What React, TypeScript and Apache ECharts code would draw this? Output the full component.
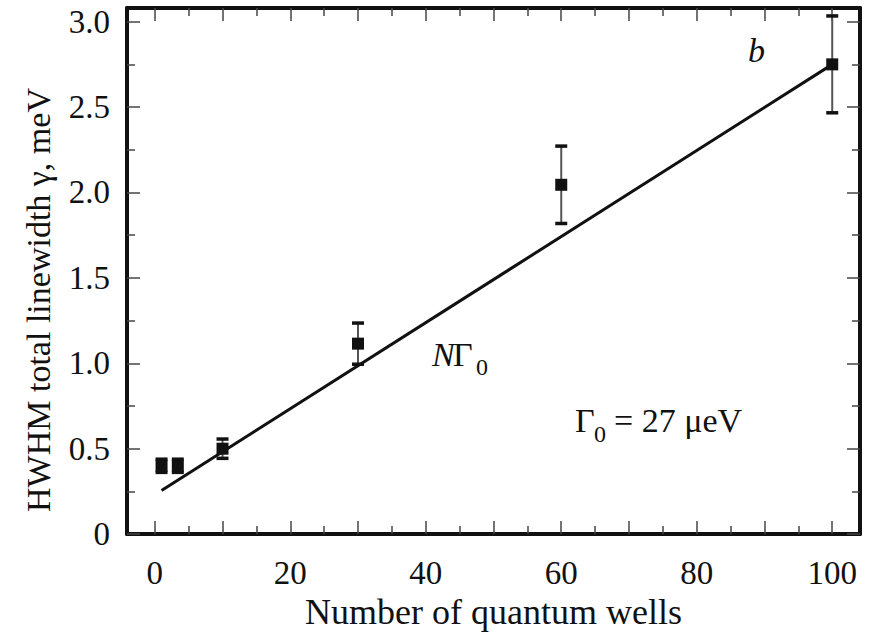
import React, { useEffect, useRef } from "react";
import * as echarts from "echarts";

// ---- data ----
const wells = [1, 3.4, 10, 30, 60, 100];
const linewidth = [0.40, 0.40, 0.50, 1.115, 2.045, 2.75];
const errors = [0.04, 0.04, 0.058, 0.122, 0.228, 0.285];
const fitX = [1, 100];
const fitY = [0.255, 2.75];

const xMajorTicks = [0, 10, 20, 30, 40, 50, 60, 70, 80, 90, 100];
const xMinorTicks = [5, 15, 25, 35, 45, 55, 65, 75, 85, 95];
const xLabels = [0, 20, 40, 60, 80, 100];
const yMajorTicks = [0, 0.5, 1.0, 1.5, 2.0, 2.5, 3.0];
const yMinorTicks = [0.25, 0.75, 1.25, 1.75, 2.25, 2.75];
const yLabels = [0, 0.5, 1.0, 1.5, 2.0, 2.5, 3.0];

const FONT = "'Liberation Serif', 'DejaVu Serif', serif";
const INK = "#111111";
const TICK = "#444";

export default function App() {
  const ref = useRef<HTMLDivElement>(null);

  useEffect(() => {
    if (!ref.current) return;
    const chart = echarts.init(ref.current, null, { renderer: "svg" });

    const xRange = { min: -4.1, max: 104.1 };
    const yRange = { min: 0, max: 3.08 };

    const baseX = (pos: "bottom" | "top", ticks: number[], len: number, line: boolean, labels: boolean, name?: string) => ({
      type: "value",
      position: pos,
      ...xRange,
      splitLine: { show: false },
      axisLine: { show: line, onZero: false, lineStyle: { color: INK, width: 4 } },
      axisTick: { show: true, inside: true, length: len, customValues: ticks, lineStyle: { color: TICK, width: 1.5 } },
      axisLabel: labels
        ? { show: true, customValues: xLabels, margin: 22, color: INK, fontFamily: FONT, fontSize: 33 }
        : { show: false },
      name: name,
      nameLocation: "middle",
      nameGap: 56,
      nameTextStyle: { color: INK, fontFamily: FONT, fontSize: 36 },
    });

    const baseY = (pos: "left" | "right", ticks: number[], len: number, line: boolean, labels: boolean) => ({
      type: "value",
      position: pos,
      ...yRange,
      splitLine: { show: false },
      axisLine: { show: line, onZero: false, lineStyle: { color: INK, width: 4 } },
      axisTick: { show: true, inside: true, length: len, customValues: ticks, lineStyle: { color: TICK, width: 1.5 } },
      axisLabel: labels
        ? {
            show: true,
            customValues: yLabels,
            margin: 17,
            color: INK,
            fontFamily: FONT,
            fontSize: 33,
            formatter: (v: number) => (v === 0 ? "0" : v.toFixed(1)),
          }
        : { show: false },
    });

    const errData = wells.map((w, i) => [w, linewidth[i] - errors[i], linewidth[i] + errors[i]]);
    const ptData = wells.map((w, i) => [w, linewidth[i]]);
    const fitData = fitX.map((x, i) => [x, fitY[i]]);

    chart.setOption({
      animation: false,
      backgroundColor: "#ffffff",
      grid: { left: 127, right: 16, top: 8, bottom: 95, containLabel: false },
      xAxis: [
        baseX("bottom", xMajorTicks, 13, true, true, "Number of quantum wells"),
        baseX("bottom", xMinorTicks, 8, false, false),
        baseX("top", xMajorTicks, 13, true, false),
        baseX("top", xMinorTicks, 8, false, false),
      ],
      yAxis: [
        baseY("left", yMajorTicks, 13, true, true),
        baseY("left", yMinorTicks, 8, false, false),
        baseY("right", yMajorTicks, 13, true, false),
        baseY("right", yMinorTicks, 8, false, false),
      ],
      series: [
        {
          type: "line",
          name: "NΓ0 fit",
          data: fitData,
          xAxisIndex: 0,
          yAxisIndex: 0,
          symbol: "none",
          lineStyle: { color: INK, width: 3 },
          z: 2,
        },
        {
          type: "custom",
          name: "error",
          data: errData,
          xAxisIndex: 0,
          yAxisIndex: 0,
          encode: { x: 0, y: [1, 2] },
          z: 3,
          renderItem: (params: any, api: any) => {
            const x = api.value(0);
            const lo = api.coord([x, api.value(1)]);
            const hi = api.coord([x, api.value(2)]);
            return {
              type: "group",
              children: [
                { type: "line", shape: { x1: lo[0], y1: lo[1], x2: hi[0], y2: hi[1] }, style: { stroke: "#555", lineWidth: 2 } },
                { type: "rect", shape: { x: hi[0] - 6, y: hi[1] - 1.5, width: 12, height: 3.5 }, style: { fill: INK } },
                { type: "rect", shape: { x: lo[0] - 6, y: lo[1] - 2, width: 12, height: 3.5 }, style: { fill: INK } },
              ],
            };
          },
        },
        {
          type: "scatter",
          name: "HWHM",
          data: ptData,
          xAxisIndex: 0,
          yAxisIndex: 0,
          symbol: "rect",
          symbolSize: 12,
          itemStyle: { color: INK, opacity: 1 },
          z: 4,
        },
      ],
      graphic: [
        {
          type: "text",
          x: 38,
          y: 300,
          rotation: Math.PI / 2,
          style: { text: "HWHM total linewidth γ, meV", font: `34px ${FONT}`, fill: INK, align: "center", verticalAlign: "middle" },
        },
        { type: "text", x: 748, y: 50, style: { text: "b", font: `italic 34px ${FONT}`, fill: INK, align: "left", verticalAlign: "middle" } },
        { type: "text", x: 432, y: 354, style: { text: "N", font: `italic 34px ${FONT}`, fill: INK, align: "left", verticalAlign: "middle" } },
        { type: "text", x: 453, y: 354, style: { text: "Γ", font: `34px ${FONT}`, fill: INK, align: "left", verticalAlign: "middle" } },
        { type: "text", x: 476, y: 367, style: { text: "0", font: `24px ${FONT}`, fill: INK, align: "left", verticalAlign: "middle" } },
        { type: "text", x: 575, y: 420, style: { text: "Γ", font: `34px ${FONT}`, fill: INK, align: "left", verticalAlign: "middle" } },
        { type: "text", x: 594, y: 434, style: { text: "0", font: `24px ${FONT}`, fill: INK, align: "left", verticalAlign: "middle" } },
        { type: "text", x: 614, y: 420, style: { text: "= 27 μeV", font: `34px ${FONT}`, fill: INK, align: "left", verticalAlign: "middle" } },
      ],
    });

    return () => chart.dispose();
  }, []);

  return <div ref={ref} style={{ position: "fixed", left: 0, top: 0, width: 876, height: 635 }} />;
}
